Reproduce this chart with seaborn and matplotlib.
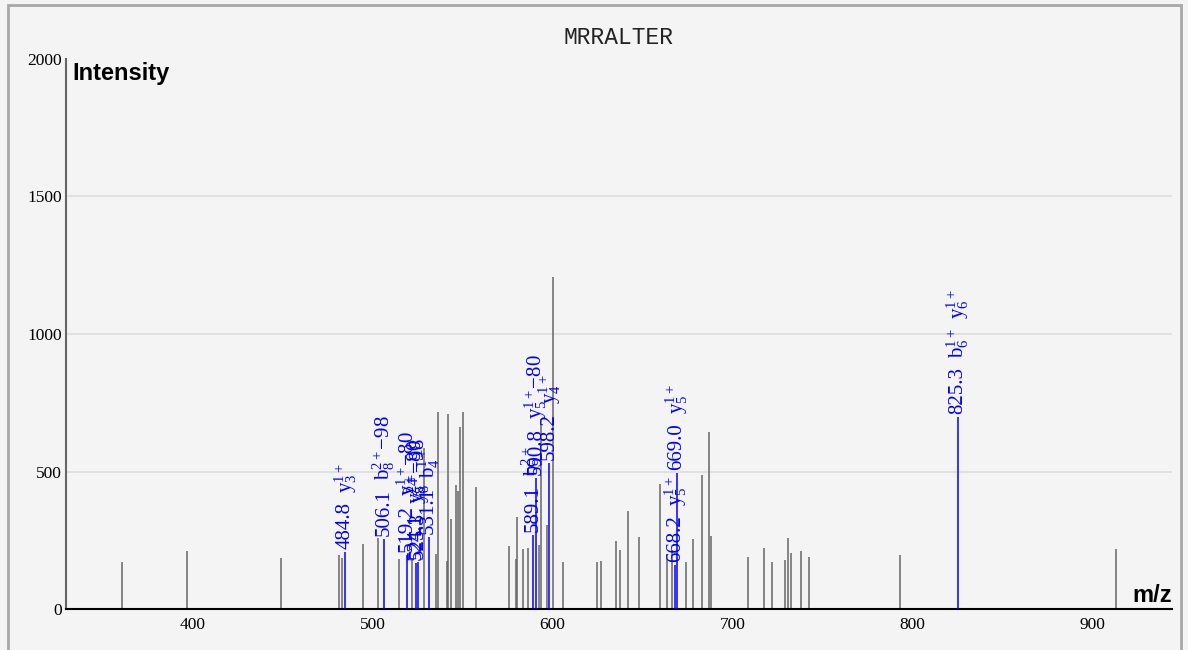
import matplotlib
matplotlib.use("Agg")
import matplotlib.pyplot as plt
import matplotlib.patches as patches
from matplotlib.ticker import MultipleLocator
import seaborn as sns

# Datos del espectro
titulo = "MRRALTER"

# picos sin anotar (m/z, intensidad)
mz_grises = [360.8, 396.7, 448.8, 481.1, 482.8, 494.5, 502.8, 514.5, 521.6, 528.5,
             535.4, 536.5, 541.4, 542.1, 543.5, 546.1, 547.2, 548.3, 550.4, 557.6,
             575.5, 579.8, 580.4, 583.3, 586.5, 592.4, 593.5, 596.6, 600.4, 605.9,
             624.4, 626.7, 635.0, 637.6, 642.0, 647.8, 659.5, 663.5, 666.5, 674.1,
             678.2, 683.3, 686.9, 688.3, 708.7, 717.6, 721.8, 729.4, 730.7, 732.4,
             738.3, 742.6, 793.3, 913.1]
int_grises = [172, 212, 184, 196, 186, 236, 259, 182, 185, 585,
              200, 718, 175, 709, 327, 451, 430, 663, 718, 445,
              228, 182, 335, 217, 222, 233, 691, 304, 1207, 171,
              171, 176, 247, 215, 357, 263, 453, 196, 215, 171,
              254, 487, 643, 265, 189, 222, 171, 177, 259, 204,
              211, 189, 196, 218]

# picos anotados
mz_anot = [484.8, 506.1, 519.2, 524.1, 525.3, 531.1, 589.1, 590.8, 598.2, 668.2, 669.0, 825.3]
int_anot = [206, 255, 198, 168, 172, 262, 268, 476, 531, 160, 494, 698]
etiquetas_masa = ["484.8", "506.1", "519.2", "524.1", "525.3", "531.1",
                  "589.1", "590.8", "598.2", "668.2", "669.0", "825.3"]
etiquetas_ion = [
    [r"$\mathrm{y}_{3}^{1+}$"],
    [r"$\mathrm{b}_{8}^{2+}$−98"],
    [r"$\mathrm{y}_{4}^{1+}$−80"],
    [r"$\mathrm{y}_{8}^{2+}$−80"],
    [r"$\mathrm{y}_{8}^{2+}$−98"],
    [r"$\mathrm{b}_{4}^{1+}$"],
    [r"$\mathrm{b}_{9}^{2+}$"],
    [r"$\mathrm{y}_{5}^{1+}$−80"],
    [r"$\mathrm{y}_{4}^{1+}$"],
    [r"$\mathrm{y}_{5}^{1+}$"],
    [r"$\mathrm{y}_{5}^{1+}$"],
    [r"$\mathrm{b}_{6}^{1+}$", r"$\mathrm{y}_{6}^{1+}$"],
]

# Configuración general
sns.set_style("white")
fondo = "#f4f4f4"
plt.rcParams["font.family"] = ["Liberation Serif", "DejaVu Serif"]
plt.rcParams["text.color"] = "black"
plt.rcParams["xtick.color"] = "black"
plt.rcParams["ytick.color"] = "black"
plt.rcParams["mathtext.fontset"] = "custom"
plt.rcParams["mathtext.rm"] = "Liberation Serif"
plt.rcParams["mathtext.it"] = "Liberation Serif:italic"
plt.rcParams["mathtext.bf"] = "Liberation Serif:bold"

fig = plt.figure(figsize=(11.88, 6.5), dpi=100, facecolor=fondo)
ax = fig.add_axes([66 / 1188, 41 / 650, 1106 / 1188, 550 / 650])
ax.set_facecolor(fondo)

# Grilla horizontal
for y in [500, 1000, 1500]:
    ax.axhline(y, color="#dcdcdc", lw=1.2, zorder=0)

# Picos
ax.vlines(mz_grises, 0, int_grises, color="#666666", lw=1.1, zorder=2)
ax.vlines(mz_anot, 0, int_anot, color="blue", lw=1.1, zorder=3)

ax.set_xlim(329.5, 944.3)
ax.set_ylim(0, 2000)

# Ejes y ticks
sns.despine(ax=ax, top=True, right=True)
ax.spines["left"].set_color("#666666")
ax.spines["left"].set_linewidth(1.5)
ax.spines["bottom"].set_color("black")
ax.spines["bottom"].set_linewidth(1.5)

ax.xaxis.set_major_locator(MultipleLocator(100))
ax.xaxis.set_minor_locator(MultipleLocator(20))
ax.yaxis.set_major_locator(MultipleLocator(500))
ax.yaxis.set_minor_locator(MultipleLocator(100))
ax.tick_params(axis="x", which="major", direction="in", length=7.5, width=1.2, color="black",
               labelsize=12.5, pad=6)
ax.tick_params(axis="x", which="minor", direction="in", length=4.5, width=1.2, color="#333333")
ax.tick_params(axis="y", which="major", direction="in", length=8, width=1.2, color="black",
               labelsize=12.5, pad=3)
ax.tick_params(axis="y", which="minor", direction="in", length=5, width=1.2, color="#333333")

ax.text(0.006, 0.995, "Intensity", transform=ax.transAxes, ha="left", va="top",
        fontsize=17, fontweight="bold", family="Liberation Sans", color="black")
ax.text(1.0, 0.004, "m/z", transform=ax.transAxes, ha="right", va="bottom",
        fontsize=17, fontweight="bold", family="Liberation Sans", color="black")

fig.text(0.521, 1 - 38 / 650, titulo, ha="center", va="center",
         fontsize=16.5, family="Liberation Mono", color="#222222")

# Anotaciones apiladas sobre cada pico
fig.canvas.draw()
renderer = fig.canvas.get_renderer()
for mz, inten, masa, iones in zip(mz_anot, int_anot, etiquetas_masa, etiquetas_ion):
    desplazamiento = 3
    for txt in [masa] + iones:
        t = ax.annotate(txt, xy=(mz, inten), xytext=(0, desplazamiento),
                        textcoords="offset pixels", rotation=90, ha="center", va="bottom",
                        color="blue", fontsize=15, zorder=4)
        bb = t.get_window_extent(renderer)
        desplazamiento += bb.height + 9

# Marco gris
fig.patches.append(patches.Rectangle((8 / 1188, -0.02), 1173 / 1188, 1.0 - 5 / 650 + 0.02,
                                     transform=fig.transFigure, fill=False,
                                     edgecolor="#a8a8a8", lw=2))

plt.savefig("out.png", dpi=100, facecolor=fondo)
